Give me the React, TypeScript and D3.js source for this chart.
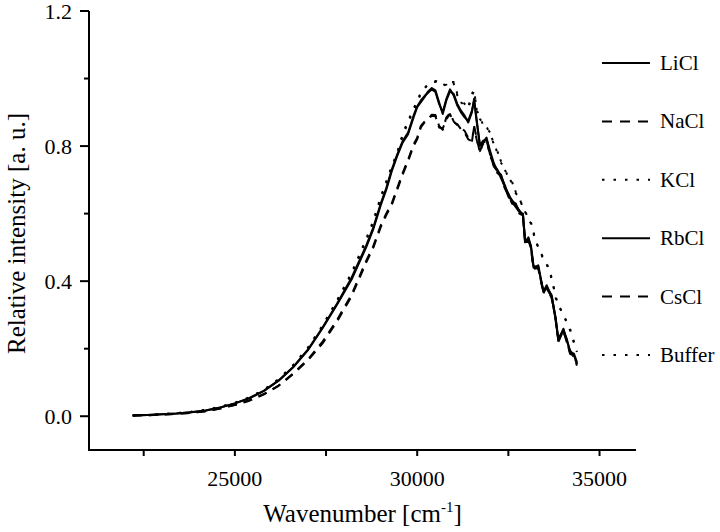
import React from "react";
import * as d3 from "d3";

const wavenumbers = [22200, 22600, 23000, 23400, 23800, 24200, 24600, 25000, 25400, 25800, 26200, 26600, 27000, 27400, 27800, 28200, 28600, 28800, 29000, 29150, 29300, 29450, 29600, 29750, 29900, 30000, 30100, 30200, 30300, 30400, 30500, 30600, 30700, 30800, 30900, 31000, 31100, 31200, 31300, 31400, 31500, 31560, 31640, 31720, 31800, 31900, 32000, 32100, 32200, 32300, 32400, 32500, 32600, 32700, 32800, 32900, 32960, 33050, 33120, 33190, 33320, 33460, 33550, 33690, 33800, 33870, 34010, 34100, 34190, 34300, 34380];

const liclValues = [0.002, 0.004, 0.006, 0.008, 0.012, 0.017, 0.026, 0.038, 0.053, 0.075, 0.105, 0.145, 0.195, 0.26, 0.33, 0.405, 0.5, 0.555, 0.625, 0.67, 0.725, 0.77, 0.81, 0.835, 0.885, 0.915, 0.93, 0.945, 0.962, 0.972, 0.965, 0.93, 0.895, 0.935, 0.962, 0.955, 0.925, 0.905, 0.89, 0.87, 0.9, 0.94, 0.87, 0.8, 0.815, 0.82, 0.78, 0.745, 0.73, 0.71, 0.685, 0.655, 0.64, 0.625, 0.61, 0.595, 0.515, 0.53, 0.5, 0.44, 0.447, 0.368, 0.388, 0.353, 0.29, 0.224, 0.259, 0.225, 0.195, 0.18, 0.155];
const naclValues = [0.002, 0.003, 0.005, 0.007, 0.01, 0.015, 0.023, 0.033, 0.046, 0.065, 0.09, 0.125, 0.165, 0.215, 0.28, 0.355, 0.455, 0.5, 0.56, 0.595, 0.625, 0.67, 0.715, 0.755, 0.8, 0.82, 0.855, 0.87, 0.88, 0.893, 0.892, 0.86, 0.848, 0.885, 0.898, 0.873, 0.862, 0.855, 0.845, 0.825, 0.812, 0.86, 0.82, 0.78, 0.81, 0.815, 0.775, 0.74, 0.725, 0.705, 0.68, 0.65, 0.635, 0.62, 0.605, 0.59, 0.51, 0.525, 0.495, 0.435, 0.442, 0.363, 0.383, 0.348, 0.285, 0.22, 0.254, 0.22, 0.19, 0.175, 0.15];
const kclValues = [0.002, 0.004, 0.006, 0.009, 0.013, 0.018, 0.027, 0.039, 0.055, 0.078, 0.108, 0.15, 0.2, 0.265, 0.34, 0.42, 0.52, 0.575, 0.645, 0.69, 0.735, 0.775, 0.83, 0.87, 0.905, 0.93, 0.955, 0.97, 0.985, 0.99, 0.99, 0.996, 0.985, 0.977, 0.99, 0.99, 0.955, 0.93, 0.92, 0.915, 0.955, 0.967, 0.9, 0.88, 0.87, 0.858, 0.835, 0.81, 0.78, 0.755, 0.73, 0.71, 0.69, 0.665, 0.645, 0.62, 0.605, 0.585, 0.57, 0.545, 0.497, 0.47, 0.45, 0.41, 0.35, 0.33, 0.3, 0.28, 0.255, 0.22, 0.19];
const rbclValues = [0.002, 0.004, 0.006, 0.008, 0.012, 0.017, 0.026, 0.038, 0.054, 0.076, 0.106, 0.146, 0.197, 0.262, 0.333, 0.41, 0.505, 0.56, 0.63, 0.675, 0.73, 0.775, 0.815, 0.84, 0.89, 0.918, 0.935, 0.948, 0.958, 0.968, 0.96, 0.925, 0.9, 0.94, 0.968, 0.95, 0.92, 0.9, 0.885, 0.875, 0.905, 0.935, 0.865, 0.805, 0.81, 0.825, 0.785, 0.75, 0.725, 0.715, 0.68, 0.66, 0.635, 0.63, 0.605, 0.6, 0.52, 0.525, 0.505, 0.445, 0.44, 0.372, 0.383, 0.358, 0.285, 0.23, 0.255, 0.23, 0.19, 0.185, 0.16];
const csclValues = [0.002, 0.003, 0.005, 0.007, 0.01, 0.015, 0.023, 0.034, 0.047, 0.066, 0.091, 0.127, 0.168, 0.22, 0.285, 0.36, 0.46, 0.505, 0.565, 0.6, 0.63, 0.675, 0.72, 0.76, 0.805, 0.825, 0.86, 0.872, 0.878, 0.89, 0.888, 0.855, 0.852, 0.88, 0.895, 0.87, 0.865, 0.85, 0.84, 0.82, 0.815, 0.855, 0.815, 0.785, 0.805, 0.82, 0.77, 0.745, 0.72, 0.71, 0.675, 0.655, 0.63, 0.625, 0.6, 0.595, 0.515, 0.52, 0.5, 0.44, 0.437, 0.368, 0.378, 0.353, 0.28, 0.225, 0.25, 0.225, 0.185, 0.18, 0.155];
const bufferValues = [0.002, 0.004, 0.006, 0.009, 0.013, 0.019, 0.028, 0.04, 0.056, 0.079, 0.11, 0.152, 0.203, 0.268, 0.343, 0.425, 0.525, 0.58, 0.65, 0.695, 0.74, 0.78, 0.835, 0.875, 0.91, 0.935, 0.958, 0.972, 0.982, 0.988, 0.993, 0.99, 0.98, 0.982, 0.995, 0.985, 0.95, 0.935, 0.925, 0.91, 0.95, 0.962, 0.905, 0.885, 0.865, 0.855, 0.84, 0.805, 0.785, 0.75, 0.735, 0.705, 0.695, 0.66, 0.65, 0.615, 0.61, 0.58, 0.575, 0.54, 0.5, 0.465, 0.455, 0.405, 0.355, 0.325, 0.305, 0.275, 0.26, 0.215, 0.195];

const seriesNames = ["LiCl", "NaCl", "KCl", "RbCl", "CsCl", "Buffer"];
const seriesValues = [liclValues, naclValues, kclValues, rbclValues, csclValues, bufferValues];
const seriesDash = ["none", "9,7", "2.5,9", "none", "9,7", "2.5,9"];

const xTicks = [22500, 25000, 27500, 30000, 32500, 35000];
const xTickLabels = ["", "25000", "", "30000", "", "35000"];
const yTicks = [0, 0.2, 0.4, 0.6, 0.8, 1.0, 1.2];
const yTickLabels = ["0.0", "", "0.4", "", "0.8", "", "1.2"];

const W = 720;
const H = 532;
const left = 89;
const right = 636;
const top = 11;
const bottom = 450;
const FF = "Liberation Serif";
const txt = { fontFamily: `"${FF}"` };

export default function App() {
  const x = d3.scaleLinear().domain([21000, 36000]).range([left, right]);
  const y = d3.scaleLinear().domain([-0.1, 1.2]).range([bottom, top]);
  const line = d3
    .line<number>()
    .x((_, i) => x(wavenumbers[i]))
    .y((d) => y(d));

  return (
    <svg width={W} height={H} style={{ position: "absolute", left: 0, top: 0, background: "#fff" }}>
      <style>{`text, tspan { font-family: "Liberation Serif", serif; }`}</style>
      <rect width={W} height={H} fill="#fff" />
      {seriesValues.map((vals, i) => (
        <path
          key={seriesNames[i]}
          d={line(vals) || ""}
          fill="none"
          stroke="#000"
          strokeWidth={2}
          strokeDasharray={seriesDash[i]}
          strokeLinejoin="round"
        />
      ))}
      <line x1={left} x2={left} y1={top} y2={bottom + 1} stroke="#000" strokeWidth={2} />
      <line x1={left - 1} x2={right} y1={bottom} y2={bottom} stroke="#000" strokeWidth={2} />
      {xTicks.map((t, i) => (
        <g key={"xt" + t}>
          <line x1={x(t)} x2={x(t)} y1={bottom} y2={bottom + 6} stroke="#000" strokeWidth={2} />
          {xTickLabels[i] && (
            <text x={x(t)} y={486} fontSize={22} fontFamily={FF} textAnchor="middle" fill="#000" style={txt}>
              {xTickLabels[i]}
            </text>
          )}
        </g>
      ))}
      {yTicks.map((t, i) => (
        <g key={"yt" + t}>
          <line
            x1={left}
            x2={left - (yTickLabels[i] ? 9 : 5)}
            y1={y(t)}
            y2={y(t)}
            stroke="#000"
            strokeWidth={2}
          />
          {yTickLabels[i] && (
            <text x={72} y={y(t) + 7.5} fontSize={22} fontFamily={FF} textAnchor="end" fill="#000" style={txt}>
              {yTickLabels[i]}
            </text>
          )}
        </g>
      ))}
      <text x={(left + right) / 2} y={522} fontSize={25} fontFamily={FF} textAnchor="middle" fill="#000" style={txt}>
        Wavenumber [cm<tspan dy={-10} fontSize={15}>-1</tspan>
        <tspan dy={10}>]</tspan>
      </text>
      <text
        transform={`translate(25, ${(top + bottom) / 2 + 3}) rotate(-90)`}
        fontSize={25}
        fontFamily={FF}
        textAnchor="middle"
        fill="#000"
        style={txt}
      >
        Relative intensity [a. u.]
      </text>
      {seriesNames.map((name, i) => {
        const ly = 63 + i * 58.4;
        return (
          <g key={"lg" + name}>
            <line
              x1={602}
              x2={650}
              y1={ly}
              y2={ly}
              stroke="#000"
              strokeWidth={2}
              strokeDasharray={seriesDash[i] === "none" ? undefined : seriesDash[i] === "9,7" ? "10,8" : "2.5,9"}
            />
            <text x={660} y={ly + 7} fontSize={21} fontFamily={FF} fill="#000" style={txt}>
              {name}
            </text>
          </g>
        );
      })}
    </svg>
  );
}
